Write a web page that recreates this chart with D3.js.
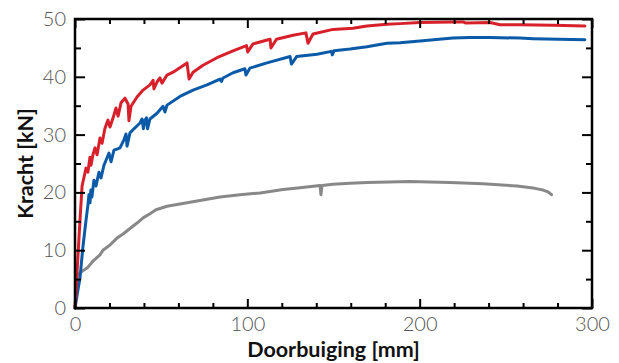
<!DOCTYPE html>
<html>
<head>
<meta charset="utf-8">
<script src="https://cdn.jsdelivr.net/npm/d3@7"></script>
<style>
  body { margin: 0; background: #fff; }
  svg { display: block; }
</style>
</head>
<body>
<svg id="chart" width="619" height="363"></svg>
<script>
// Measured curves: [doorbuiging mm, kracht kN]
const redSeries = [
  [0, 0], [2.9, 15.2], [4.1, 21.1], [5.8, 23.4], [6.4, 24.2], [7.5, 23.5], [8.7, 26.1],
  [9.3, 24.7], [10.4, 26.5], [11.6, 27.7], [12.8, 26.5], [14.5, 29.4], [15.7, 28.5],
  [17.4, 31.1], [19.1, 32.5], [20.3, 31.3], [22.1, 32.9], [23.8, 34.6], [25.0, 33.2],
  [26.7, 35.5], [29.0, 36.3], [30.8, 35.3], [31.3, 32.4], [32.5, 34.9], [36.0, 36.5],
  [39.5, 37.7], [43.5, 38.6], [45.3, 39.4], [45.8, 37.9], [47.6, 39.1], [49.3, 39.8],
  [50.5, 38.9], [53.4, 40.3], [56.9, 40.8], [65.0, 42.4], [66.2, 39.6], [68.5, 40.8],
  [74.3, 42.0], [82.4, 43.3], [91.7, 44.5], [99.5, 45.4], [100.2, 44.3], [103.3, 45.7],
  [113.2, 46.5], [113.7, 45.0], [116.9, 46.5], [126.5, 47.2], [134.0, 47.6], [135.2, 45.8],
  [138.1, 47.4], [149.7, 48.2], [161.3, 48.4], [169.4, 48.8], [181.0, 49.1], [188.6, 49.2],
  [200.2, 49.4], [219.3, 49.5], [225.2, 49.5], [226.9, 49.3], [240.8, 49.4], [246.6, 49.0],
  [258.2, 49.0], [277.4, 48.9], [295.9, 48.8]
];
const blueSeries = [
  [0, 0], [1.7, 3.1], [2.9, 5.2], [4.6, 10.6], [6.4, 15.2], [7.5, 17.8], [8.1, 19.6],
  [8.7, 18.2], [9.2, 20.4], [9.8, 19.2], [11.0, 22.1], [12.2, 21.1], [13.9, 23.5],
  [15.1, 22.5], [16.8, 24.7], [18.6, 26.0], [19.7, 26.8], [20.9, 25.3], [22.6, 27.3],
  [24.4, 27.5], [26.1, 27.7], [28.4, 29.1], [29.6, 30.1], [30.2, 28.0], [31.9, 30.3],
  [34.2, 31.0], [37.7, 32.0], [38.9, 32.7], [39.7, 31.0], [40.6, 32.5], [41.5, 32.9],
  [42.1, 31.0], [43.5, 32.7], [47.6, 33.7], [51.1, 34.9], [52.2, 33.9], [53.4, 35.1],
  [60.9, 36.6], [68.5, 37.7], [76.6, 38.6], [84.1, 39.6], [85.0, 39.2], [85.9, 39.8],
  [91.7, 40.7], [98.6, 41.4], [99.2, 40.3], [101.5, 41.5], [111.4, 42.4], [124.8, 43.5],
  [125.6, 42.2], [128.6, 43.5], [140.4, 43.9], [148.8, 44.4], [149.3, 43.8], [150.3, 44.5],
  [159.6, 44.8], [169.4, 45.2], [181.0, 45.8], [188.6, 45.9], [200.2, 46.2], [219.3, 46.7],
  [229.2, 46.8], [240.8, 46.8], [258.2, 46.7], [265.8, 46.6], [295.9, 46.4]
];
const graySeries = [
  [0, 0], [1.2, 5.4], [2.9, 6.1], [7.0, 6.9], [10.4, 8.1], [14.5, 9.2], [16.2, 10.0],
  [20.3, 10.9], [24.4, 12.1], [27.9, 12.8], [30.8, 13.5], [36.0, 14.7], [39.5, 15.6],
  [43.5, 16.3], [47.0, 17.0], [53.4, 17.6], [60.9, 18.0], [72.5, 18.6], [84.1, 19.2],
  [95.7, 19.6], [107.4, 19.9], [120.7, 20.5], [130.6, 20.8], [142.2, 21.2], [142.7, 19.6],
  [143.3, 21.2], [149.7, 21.4], [159.6, 21.6], [169.4, 21.7], [194.4, 21.9], [217.6, 21.7],
  [236.8, 21.5], [256.5, 21.1], [266.9, 20.7], [271.6, 20.4], [274.5, 20.1], [276.5, 19.6]
];

const xMajorTicks = [0, 100, 200, 300];
const xMinorTicks = [20, 40, 60, 80, 120, 140, 160, 180, 220, 240, 260, 280];
const yMajorTicks = [0, 10, 20, 30, 40, 50];
const yMinorTicks = [5, 15, 25, 35, 45];

const xTitle = "Doorbuiging [mm]";
const yTitle = "Kracht [kN]";

const svg = d3.select('#chart');
const plot = { left: 75, right: 592, top: 19, bottom: 308 };

const x = d3.scaleLinear().domain([0, 300]).range([plot.left, plot.right]);
const y = d3.scaleLinear().domain([0, 50]).range([plot.bottom, plot.top]);

const fontFam = "Lato, 'Open Sans', sans-serif";

// curves
const line = d3.line().x(d => x(d[0])).y(d => y(d[1]));
[[graySeries, '#888888'], [blueSeries, '#0b5aa8'], [redSeries, '#d8202a']].forEach(([s, c]) => {
    svg.append('path')
        .datum(s)
        .attr('fill', 'none')
        .attr('stroke', c)
        .attr('stroke-width', 3)
        .attr('stroke-linejoin', 'round')
        .attr('stroke-linecap', 'round')
        .attr('d', line);
});

// axes: ticks pointing inward on all four sides
function styleAxis(g) {
    g.select('.domain').remove();
    g.selectAll('.tick line').attr('stroke', '#000').attr('stroke-width', 2);
    g.selectAll('text')
        .attr('fill', '#555')
        .style('font-family', fontFam)
        .style('font-weight', 300)
        .style('font-size', '20px');
}

svg.append('g').attr('transform', `translate(0,${plot.bottom})`)
    .call(d3.axisBottom(x).tickValues(xMajorTicks).tickSize(-9).tickPadding(9).tickFormat(d3.format('d')))
    .call(styleAxis);
svg.append('g').attr('transform', `translate(0,${plot.bottom})`)
    .call(d3.axisBottom(x).tickValues(xMinorTicks).tickSize(-5).tickFormat(''))
    .call(styleAxis);
svg.append('g').attr('transform', `translate(0,${plot.top})`)
    .call(d3.axisTop(x).tickValues(xMajorTicks).tickSize(-9).tickFormat(''))
    .call(styleAxis);
svg.append('g').attr('transform', `translate(0,${plot.top})`)
    .call(d3.axisTop(x).tickValues(xMinorTicks).tickSize(-5).tickFormat(''))
    .call(styleAxis);

svg.append('g').attr('transform', `translate(${plot.left},0)`)
    .call(d3.axisLeft(y).tickValues(yMajorTicks).tickSize(-10).tickPadding(9).tickFormat(d3.format('d')))
    .call(styleAxis);
svg.append('g').attr('transform', `translate(${plot.left},0)`)
    .call(d3.axisLeft(y).tickValues(yMinorTicks).tickSize(-6).tickFormat(''))
    .call(styleAxis);
svg.append('g').attr('transform', `translate(${plot.right},0)`)
    .call(d3.axisRight(y).tickValues(yMajorTicks).tickSize(-10).tickFormat(''))
    .call(styleAxis);
svg.append('g').attr('transform', `translate(${plot.right},0)`)
    .call(d3.axisRight(y).tickValues(yMinorTicks).tickSize(-6).tickFormat(''))
    .call(styleAxis);

// frame
svg.append('rect')
    .attr('x', plot.left).attr('y', plot.top)
    .attr('width', plot.right - plot.left).attr('height', plot.bottom - plot.top)
    .attr('fill', 'none')
    .attr('stroke', '#000')
    .attr('stroke-width', 2.5);

// axis titles
svg.append('text')
    .attr('x', (plot.left + plot.right) / 2)
    .attr('y', 357)
    .attr('text-anchor', 'middle')
    .style('font-family', fontFam)
    .style('font-weight', 'bold')
    .style('font-size', '21.5px')
    .attr('fill', '#111')
    .text(xTitle);

svg.append('text')
    .attr('transform', `translate(33,${(plot.top + plot.bottom) / 2}) rotate(-90)`)
    .attr('text-anchor', 'middle')
    .style('font-family', fontFam)
    .style('font-weight', 'bold')
    .style('font-size', '21.5px')
    .attr('fill', '#111')
    .text(yTitle);
</script>
</body>
</html>
